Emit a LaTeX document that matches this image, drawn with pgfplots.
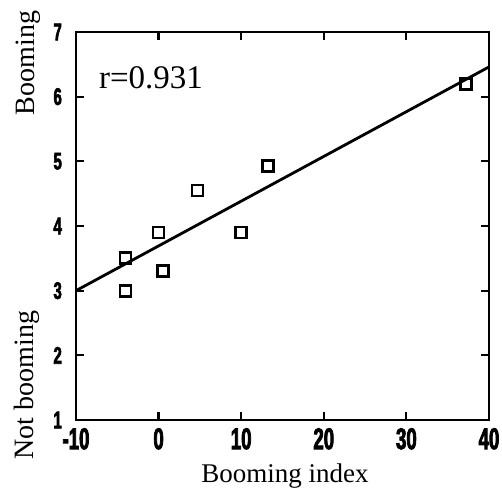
\documentclass[border=0pt]{standalone}
\usepackage{fontspec}
\setmainfont{Liberation Serif}
\newfontfamily\tickfont{Liberation Sans}[FakeStretch=0.62,FakeBold=2.5]
\usepackage{pgfplots}
\pgfplotsset{compat=1.18}
\begin{document}
\begin{tikzpicture}
\path (-76bp,-67bp) rectangle (426bp,420bp);
\begin{axis}[
  at={(0,0)}, anchor=south west,
  width=413bp, height=388bp, scale only axis,
  xmin=-10, xmax=40, ymin=1, ymax=7,
  xtick={-10,0,10,20,30,40},
  xticklabels={-10,0,10,20,30,40},
  ytick={1,2,3,4,5,6,7},
  yticklabels={1,2,3,4,5,6,7},
  yticklabel style={font=\fontsize{24bp}{24bp}\tickfont\bfseries, inner sep=0pt, xshift=-14bp},
  xticklabel style={font=\fontsize{30bp}{30bp}\tickfont\bfseries, inner sep=0pt, yshift=-8bp},
  major tick length=8bp,
  tick style={line width=2.2bp, black},
  axis line style={line width=2.8bp},
  clip=false,
]
\addplot[only marks, mark=square, mark size=5.5bp, mark options={line width=2.8bp, black}]
coordinates {
(-4,3.0) (-4,3.5) (0.5,3.3) (0,3.9) (4.7,4.55) (10,3.9) (13.2,4.93) (37.2,6.2)
};
\addplot[black, line width=2.8bp] coordinates {(-10,3.0) (40,6.46)};
\end{axis}
\node[rotate=90, font=\fontsize{28bp}{28bp}\selectfont] at (-48bp,357bp) {Booming};
\node[rotate=90, font=\fontsize{28bp}{28bp}\selectfont] at (-49bp,35bp) {Not booming};
\node[font=\fontsize{27bp}{27bp}\selectfont] at (209bp,-56bp) {Booming index};
\node[font=\fontsize{33bp}{33bp}\selectfont] at (75bp,342bp) {r=0.931};
\end{tikzpicture}
\end{document}
